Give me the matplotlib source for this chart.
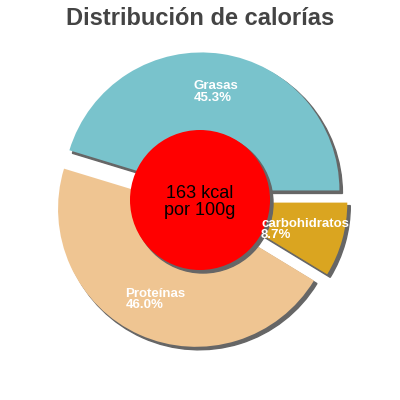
import numpy as np
import matplotlib.pyplot as plt
import matplotlib.patches as mpatches

# Data
categories = ["Grasas", "Proteínas", "carbohidratos"]
percentages = [45.3, 46.0, 8.7]
slice_colors = ["#79C3CC", "#EFC592", "#DAA520"]
center_lines = ["163 kcal", "por 100g"]
title = "Distribución de calorías"

plt.rcParams['font.family'] = ['Liberation Sans', 'DejaVu Sans']

fig = plt.figure(figsize=(4, 4), dpi=100)
ax = fig.add_axes([0, 0, 1, 1])

labels = [f"{c}\n{p:.1f}%" for c, p in zip(categories, percentages)]
wedges, texts = ax.pie(percentages, labels=labels, colors=slice_colors,
                       startangle=0, counterclock=True,
                       explode=[0.07] * len(percentages),
                       labeldistance=0.72, radius=1.0,
                       textprops=dict(color='white', fontsize=9.5, fontweight='bold'))
lim = 200 / 138
ax.set_aspect('equal')
ax.set_xlim(-lim, lim)
ax.set_ylim(-lim, lim)
ax.axis('off')

for t in texts:
    t.set_ha('center')
    t.set_va('center')
    t.set_multialignment('left')
    t.set_linespacing(0.95)
    t.set_zorder(5)

# Shadow offsets are data units scaled by dpi/72
shade_off = 3 / 138 * 72 / 100
for w in wedges:
    s = mpatches.Shadow(w, shade_off, -shade_off)
    s.set_facecolor('#666666')
    s.set_edgecolor('#666666')
    s.set_alpha(1)
    s.set_zorder(0.5)
    ax.add_patch(s)

circle = mpatches.Circle((0, 0), 70 / 138, facecolor='#FF0000', edgecolor='none', zorder=3)
ax.add_patch(circle)
cs = mpatches.Shadow(circle, shade_off, -shade_off)
cs.set_facecolor('#666666')
cs.set_edgecolor('#666666')
cs.set_alpha(1)
cs.set_zorder(2.5)
ax.add_patch(cs)

ax.text(0, -2 / 138, "\n".join(center_lines), ha='center', va='center',
        fontsize=13, color='black', linespacing=1.0, zorder=6)

fig.text(0.5, 1 - 18.5 / 400, title, ha='center', va='center',
         fontsize=17, fontweight='bold', color='#444444')

fig.savefig("out.png", dpi=100)
